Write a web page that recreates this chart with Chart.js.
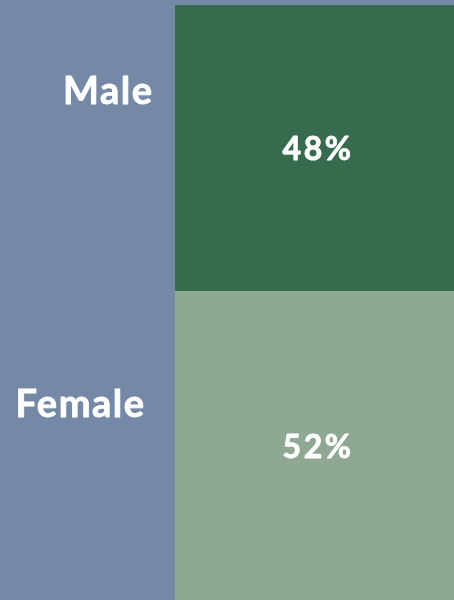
<!DOCTYPE html>
<html><head><meta charset="utf-8">
<script src="https://cdn.jsdelivr.net/npm/chart.js@4"></script>
<style>html,body{margin:0;padding:0;background:#7589a6;}#wrap{width:454px;height:600px;}</style>
</head><body><div id="wrap"><canvas id="c" width="454" height="600"></canvas></div>
<script>
const categories = ['Male', 'Female'];
const values = [48, 52];
const colors = ['#366b4e', '#8fa894'];

const labelStyle = [
  {x: 152, dy: -56},
  {x: 144, dy: -41}
];

const labelsPlugin = {
  id: 'labelsPlugin',
  afterDatasetsDraw(chart) {
    const ctx = chart.ctx;
    ctx.save();
    ctx.fillStyle = '#ffffff';
    ctx.strokeStyle = '#ffffff';
    ctx.lineWidth = 0.8;
    ctx.lineJoin = 'round';
    ctx.textBaseline = 'middle';
    chart.data.datasets.forEach((ds, i) => {
      const el = chart.getDatasetMeta(i).data[0];
      const cy = (el.y + el.base) / 2;
      const pct = ds.data[0] + '%';
      ctx.font = 'bold 32px Lato';
      ctx.letterSpacing = '2.5px';
      ctx.textAlign = 'center';
      ctx.fillText(pct, el.x + 3.5, cy + 2);
      ctx.strokeText(pct, el.x + 3.5, cy + 2);
      ctx.font = 'bold 38px Lato';
      ctx.letterSpacing = '1.5px';
      ctx.textAlign = 'right';
      ctx.fillText(ds.label, labelStyle[i].x + 1.5, cy + labelStyle[i].dy);
      ctx.strokeText(ds.label, labelStyle[i].x + 1.5, cy + labelStyle[i].dy);
    });
    ctx.restore();
  }
};

new Chart(document.getElementById('c'), {
  type: 'bar',
  data: {
    labels: ['Gender'],
    datasets: categories.map((c, i) => ({
      label: c,
      data: [values[i]],
      backgroundColor: colors[i],
      borderWidth: 0,
      barPercentage: 1,
      categoryPercentage: 1
    }))
  },
  options: {
    responsive: false,
    animation: false,
    layout: {padding: {left: 175, top: 5, right: 0, bottom: 0}},
    plugins: {legend: {display: false}, tooltip: {enabled: false}},
    scales: {
      x: {stacked: true, display: false},
      y: {stacked: true, display: false, min: 0, max: 100, reverse: true}
    }
  },
  plugins: [labelsPlugin]
});
</script>
</body></html>
